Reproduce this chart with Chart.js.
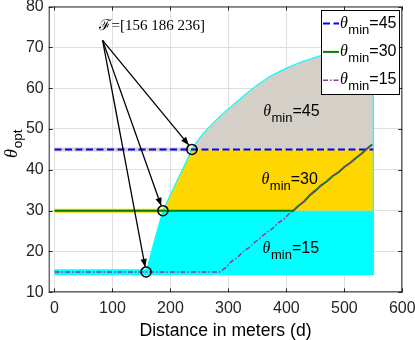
<!DOCTYPE html>
<html>
<head>
<meta charset="utf-8">
<script src="https://cdn.jsdelivr.net/npm/chart.js@4.4.1/dist/chart.umd.min.js"></script>
<style>
  body { margin: 0; background: #fff; }
  canvas { display: block; }
</style>
</head>
<body>
<canvas id="thetaChart" width="415" height="340"></canvas>
<script>
// tick labels
const xTicks = [0, 100, 200, 300, 400, 500, 600];
const yTicks = [10, 20, 30, 40, 50, 60, 70, 80];

// upper edge of the feasible region (theta vs distance)
const boundaryD = [158, 172, 187, 200, 212, 225, 237, 246, 255, 265, 274, 290, 303, 318, 330, 350, 372, 400, 429, 458, 500, 550];
const boundaryTheta = [15, 22.4, 30, 33.9, 37.5, 41.3, 45, 47.0, 48.7, 50.2, 51.5, 53.7, 55.3, 57.1, 58.6, 60.8, 62.9, 64.9, 66.6, 67.9, 69.4, 70.6];
const regionBottom = 14.2;
const regionRight = 550;

// optimum theta for each theta_min
const min45D = [0, 550];
const min45Theta = [45, 45];

const min30D = [0, 412, 421, 431, 440, 450, 460, 470, 480, 490, 500, 511, 520, 530, 540, 548];
const min30Theta = [30, 30, 31.2, 32.3, 33.7, 34.9, 36.2, 37.2, 38.5, 39.4, 40.7, 41.8, 42.9, 44.0, 45.3, 46.2];

const min15D = [0, 285, 296, 305, 316, 325, 336, 345, 356, 366, 376, 386, 396, 405, 412, 421, 431, 440, 450, 460, 470, 480, 490, 500, 511, 520, 530, 540, 548];
const min15Theta = [15, 15, 16.1, 17.5, 18.6, 19.9, 21.0, 22.2, 23.4, 24.7, 25.6, 27.0, 27.9, 29.3, 30.0, 31.2, 32.3, 33.7, 34.9, 36.2, 37.2, 38.5, 39.4, 40.7, 41.8, 42.9, 44.0, 45.3, 46.2];

// feasible points F
const feasLabels = [156, 186, 236];
const circleD = [158, 187, 237];
const circleTheta = [15, 30, 45];

// annotation arrows
const arrowTailD = 83;
const arrowTailTheta = 71.7;
const arrowTipD = [231.5, 184, 156.4];
const arrowTipTheta = [46.1, 31.2, 16.2];

const CYAN = "#00ffff";
const GOLD = "#ffd700";
const GRAY = "#d4d0c8";
const INK = "#262626";

function pts(xs, ys) {
  return xs.map((x, i) => ({ x: x, y: ys[i] }));
}

const curve = pts(boundaryD, boundaryTheta);
const i30 = boundaryTheta.indexOf(30);
const i45 = boundaryTheta.indexOf(45);

// region polygons
const cyanShape = [{ x: boundaryD[0], y: regionBottom }, { x: regionRight, y: regionBottom }, { x: regionRight, y: 30 }]
  .concat(curve.slice(0, i30 + 1).reverse());
const goldShape = [{ x: regionRight, y: 30 }, { x: regionRight, y: 45 }]
  .concat(curve.slice(i30, i45 + 1).reverse());
const grayShape = curve.slice(i45).concat([{ x: regionRight, y: 45 }]);
const edge = curve.slice().concat([{ x: regionRight, y: regionBottom }]);

const datasets = [];

// arrows (top)
arrowTipD.forEach((d, i) => {
  datasets.push({
    data: [{ x: arrowTailD, y: arrowTailTheta }, { x: d, y: arrowTipTheta[i] }],
    borderColor: "#000", borderWidth: 1.3, arrow: true, order: 0,
  });
});

datasets.push({
  data: pts(circleD, circleTheta),
  showLine: false, pointRadius: 5, pointBorderWidth: 1.5,
  pointBorderColor: "#000", pointBackgroundColor: "rgba(0,0,0,0)", order: 1,
});

datasets.push({ label: "15", data: pts(min15D, min15Theta), borderColor: "#8b3a98", borderWidth: 1.5, borderDash: [5, 2, 1.5, 2], order: 2 });
datasets.push({ label: "30", data: pts(min30D, min30Theta), borderColor: "#008000", borderWidth: 2, order: 3 });
datasets.push({ label: "45", data: pts(min45D, min45Theta), borderColor: "#0000ff", borderWidth: 2, borderDash: [7, 3.5], order: 4 });

// cyan outline of the region
datasets.push({ data: edge, borderColor: CYAN, borderWidth: 1.2, order: 5 });

// thick strips left of the boundary
datasets.push({ data: [{ x: 0, y: 14.9 }, { x: boundaryD[0], y: 14.9 }], borderColor: CYAN, borderWidth: 6, borderCapStyle: "butt", order: 6 });
datasets.push({ data: [{ x: 0, y: 30 }, { x: boundaryD[i30], y: 30 }], borderColor: GOLD, borderWidth: 4, borderCapStyle: "butt", order: 6 });
datasets.push({ data: [{ x: 0, y: 45 }, { x: boundaryD[i45], y: 45 }], borderColor: GRAY, borderWidth: 4, borderCapStyle: "butt", order: 6 });

// filled regions
datasets.push({ data: cyanShape, fill: "shape", backgroundColor: CYAN, borderWidth: 0, order: 7 });
datasets.push({ data: goldShape, fill: "shape", backgroundColor: GOLD, borderWidth: 0, order: 7 });
datasets.push({ data: grayShape, fill: "shape", backgroundColor: GRAY, borderWidth: 0, order: 7 });

// theta with subscript, x = left, y = baseline
function thetaText(ctx, x, y, sub, rest, big, small, drop) {
  ctx.textAlign = "left";
  ctx.textBaseline = "alphabetic";
  ctx.fillStyle = "#000";
  ctx.font = "italic " + big + "px 'Liberation Serif'";
  ctx.fillText("θ", x, y);
  x += ctx.measureText("θ").width + 0.5;
  ctx.font = small + "px 'Liberation Sans'";
  ctx.fillText(sub, x, y + drop);
  x += ctx.measureText(sub).width;
  ctx.font = big + "px 'Liberation Sans'";
  ctx.fillText(rest, x, y);
}

const extras = {
  id: "extras",
  afterDatasetsDraw(chart) {
    const ctx = chart.ctx;
    const xs = chart.scales.x;
    const ys = chart.scales.y;

    // arrow heads
    chart.data.datasets.forEach((ds, i) => {
      if (!ds.arrow) return;
      const p = chart.getDatasetMeta(i).data;
      const a = Math.atan2(p[1].y - p[0].y, p[1].x - p[0].x);
      ctx.save();
      ctx.fillStyle = "#000";
      ctx.translate(p[1].x, p[1].y);
      ctx.rotate(a);
      ctx.beginPath();
      ctx.moveTo(0, 0);
      ctx.lineTo(-8, -3.2);
      ctx.lineTo(-8, 3.2);
      ctx.closePath();
      ctx.fill();
      ctx.restore();
    });

    // region labels
    ctx.save();
    thetaText(ctx, xs.getPixelForValue(360), ys.getPixelForValue(53.2), "min", "=45", 16, 13, 6);
    thetaText(ctx, xs.getPixelForValue(357), ys.getPixelForValue(36.6), "min", "=30", 16, 13, 6);
    thetaText(ctx, xs.getPixelForValue(359), ys.getPixelForValue(19.6), "min", "=15", 16, 13, 6);

    // F annotation
    ctx.font = "15px 'Liberation Serif'";
    ctx.fillStyle = "#000";
    ctx.fillText("ℱ=[" + feasLabels.join(" ") + "]", xs.getPixelForValue(77.6), ys.getPixelForValue(74.2));
    ctx.restore();
  },
  afterDraw(chart) {
    const ctx = chart.ctx;
    const a = chart.chartArea;
    const xs = chart.scales.x;
    const ys = chart.scales.y;
    ctx.save();

    // box and inward ticks
    ctx.strokeStyle = INK;
    ctx.lineWidth = 1;
    ctx.strokeRect(a.left + 0.5, a.top + 0.5, a.right - a.left - 1, a.bottom - a.top - 1);
    ctx.beginPath();
    xTicks.forEach((v) => {
      const x = Math.round(xs.getPixelForValue(v)) + 0.5;
      ctx.moveTo(x, a.bottom); ctx.lineTo(x, a.bottom - 4);
      ctx.moveTo(x, a.top); ctx.lineTo(x, a.top + 4);
    });
    yTicks.forEach((v) => {
      const y = Math.round(ys.getPixelForValue(v)) + 0.5;
      ctx.moveTo(a.left, y); ctx.lineTo(a.left + 4, y);
      ctx.moveTo(a.right, y); ctx.lineTo(a.right - 4, y);
    });
    ctx.stroke();

    // legend
    const lx = 321, ly = 10, lw = 78, lh = 84;
    ctx.fillStyle = "#fff";
    ctx.fillRect(lx, ly, lw, lh);
    ctx.strokeStyle = "#000";
    ctx.strokeRect(lx + 0.5, ly + 0.5, lw, lh);
    ["45", "30", "15"].forEach((name, k) => {
      const ds = chart.data.datasets.find((d) => d.label === name);
      const y = ly + 13.5 + k * 28.4;
      ctx.strokeStyle = ds.borderColor;
      ctx.lineWidth = ds.borderWidth;
      ctx.setLineDash(ds.borderDash || []);
      ctx.beginPath();
      ctx.moveTo(lx + 2, y);
      ctx.lineTo(lx + 18, y);
      ctx.stroke();
      ctx.setLineDash([]);
      thetaText(ctx, lx + 19, y + 4, "min", "=" + name, 16, 13, 6);
    });

    // axis titles
    ctx.fillStyle = "#000";
    ctx.font = "17.6px 'Liberation Sans'";
    ctx.textAlign = "center";
    ctx.textBaseline = "alphabetic";
    ctx.fillText("Distance in meters (d)", (a.left + a.right) / 2, 335.5);

    ctx.translate(17, 158);
    ctx.rotate(-Math.PI / 2);
    ctx.textAlign = "left";
    ctx.font = "italic 18px 'Liberation Serif'";
    ctx.fillText("θ", 0, 0);
    const w = ctx.measureText("θ").width;
    ctx.font = "13.5px 'Liberation Sans'";
    ctx.fillText("opt", w + 1, 5);
    ctx.restore();
  },
};

const tickFont = { family: "'Liberation Sans'", size: 16 };

new Chart(document.getElementById("thetaChart"), {
  type: "line",
  data: { datasets: datasets },
  options: {
    responsive: false,
    animation: false,
    events: [],
    layout: { padding: { left: 0, top: 5, right: 12.7, bottom: 0 } },
    elements: {
      point: { radius: 0 },
      line: { tension: 0, fill: false },
    },
    plugins: { legend: { display: false }, tooltip: { enabled: false } },
    scales: {
      x: {
        type: "linear", min: -10, max: 600,
        afterBuildTicks: (s) => { s.ticks = xTicks.map((v) => ({ value: v })); },
        afterFit: (s) => { s.height = 47.7; s.paddingLeft = 0; s.paddingRight = 0; },
        ticks: { font: tickFont, color: INK, padding: 7, maxRotation: 0 },
        grid: { color: "#dfdfdf", drawTicks: false },
        border: { display: false },
      },
      y: {
        type: "linear", min: 10, max: 80,
        afterBuildTicks: (s) => { s.ticks = yTicks.map((v) => ({ value: v })); },
        afterFit: (s) => { s.width = 48.7; s.paddingTop = 0; s.paddingBottom = 0; },
        ticks: { font: tickFont, color: INK, padding: 5 },
        grid: { color: "#dfdfdf", drawTicks: false },
        border: { display: false },
      },
    },
  },
  plugins: [extras],
});
</script>
</body>
</html>
